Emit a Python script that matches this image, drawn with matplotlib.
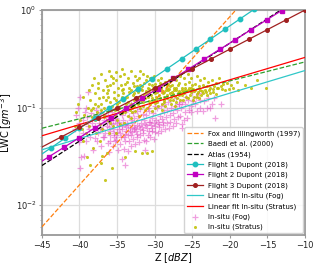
import matplotlib
matplotlib.use("Agg")
import matplotlib.pyplot as plt
from matplotlib.ticker import LogLocator, NullFormatter

# ---------------- data ----------------
# literature relations: endpoints of straight lines (log-LWC vs dBZ)
fox_z = [-45, -10]
fox_lwc = [0.006, 6.2]
baedi_z = [-45, -10]
baedi_lwc = [0.0615, 0.294]
atlas_z = [-45, -10]
atlas_lwc = [0.0255, 1.45]

# Dupont (2018) flights (marker positions)
f1_z = [-45.7, -43.8, -41.9, -40.0, -38.0, -36.1, -34.2, -32.2, -30.3, -28.4,
        -26.4, -24.5, -22.6, -20.6, -18.7, -16.8, -14.9]
f1_lwc = [0.0308, 0.0387, 0.0488, 0.0613, 0.0781, 0.0982, 0.1236, 0.157, 0.198,
          0.249, 0.317, 0.399, 0.502, 0.640, 0.805, 1.013, 1.27]
f2_z = [-46.2, -44.1, -42.0, -40.0, -37.9, -35.8, -33.8, -31.7, -29.6, -27.5,
        -25.5, -23.4, -21.3, -19.3, -17.2, -15.1, -13.1, -11.0]
f2_lwc = [0.0247, 0.0313, 0.0395, 0.0493, 0.0624, 0.0788, 0.0985, 0.1245, 0.157,
          0.199, 0.248, 0.314, 0.397, 0.495, 0.627, 0.792, 0.989, 1.25]
f3_z = [-47.5, -42.5, -40.0, -37.5, -35.0, -32.5, -30.0, -27.5, -25.0, -22.5,
        -20.0, -17.5, -15.0, -12.5, -10.0]
f3_lwc = [0.0313, 0.0498, 0.0626, 0.0789, 0.0994, 0.125, 0.158, 0.199, 0.250,
          0.315, 0.397, 0.500, 0.630, 0.794, 1.0]

# linear fits of in-situ data
fitfog_z = [-45, -10]
fitfog_lwc = [0.037, 0.24]
fitstr_z = [-45, -10]
fitstr_lwc = [0.0515, 0.327]

# in-situ stratus points (Z dBZ, LWC g m-3)
stratus = [
    (-40.6, 0.065), (-40.4, 0.09), (-40.1, 0.05), (-39.9, 0.075), (-40.2, 0.11),
    (-39.6, 0.045), (-39.4, 0.085), (-39.7, 0.06), (-39.5, 0.13), (-39.1, 0.07),
    (-38.9, 0.1), (-39.2, 0.055), (-38.8, 0.15), (-39.0, 0.031), (-38.6, 0.12),
    (-38.4, 0.08), (-38.7, 0.065), (-38.3, 0.17), (-38.6, 0.026), (-38.5, 0.095),
    (-38.1, 0.2), (-37.9, 0.14), (-38.2, 0.1), (-38.0, 0.075), (-37.8, 0.055),
    (-38.2, 0.039), (-37.9, 0.11), (-37.6, 0.18), (-37.4, 0.125), (-37.7, 0.09),
    (-37.3, 0.068), (-37.3, 0.046), (-37.5, 0.16), (-37.6, 0.105), (-37.1, 0.22),
    (-36.9, 0.15), (-37.2, 0.11), (-36.8, 0.08), (-37.0, 0.06), (-37.0, 0.032),
    (-37.1, 0.027), (-36.9, 0.13), (-37.2, 0.095), (-36.6, 0.19), (-36.4, 0.14),
    (-36.7, 0.1), (-36.3, 0.075), (-36.4, 0.034), (-36.6, 0.018), (-36.5, 0.12),
    (-36.7, 0.085), (-36.3, 0.165), (-36.1, 0.24), (-35.9, 0.17), (-36.2, 0.13),
    (-35.8, 0.095), (-36.0, 0.07), (-36.1, 0.055), (-35.9, 0.115), (-36.2, 0.15),
    (-35.8, 0.21), (-36.0, 0.08), (-35.6, 0.2), (-35.4, 0.145), (-35.7, 0.105),
    (-35.3, 0.085), (-35.6, 0.065), (-35.7, 0.024), (-35.4, 0.125), (-35.5, 0.18),
    (-35.3, 0.095), (-35.1, 0.23), (-34.9, 0.16), (-35.2, 0.12), (-34.8, 0.1),
    (-35.0, 0.075), (-35.1, 0.055), (-34.9, 0.135), (-35.2, 0.19), (-34.8, 0.09),
    (-35.0, 0.11), (-34.6, 0.21), (-34.4, 0.15), (-34.7, 0.115), (-34.3, 0.088),
    (-34.6, 0.068), (-34.4, 0.13), (-34.5, 0.17), (-34.7, 0.1), (-34.3, 0.25),
    (-34.1, 0.22), (-33.9, 0.175), (-34.2, 0.14), (-33.8, 0.11), (-34.0, 0.09),
    (-34.1, 0.07), (-34.0, 0.031), (-33.9, 0.125), (-34.2, 0.155), (-33.8, 0.1),
    (-33.6, 0.2), (-33.4, 0.16), (-33.7, 0.13), (-33.3, 0.105), (-33.6, 0.082),
    (-33.4, 0.145), (-33.5, 0.115), (-33.7, 0.185), (-33.3, 0.095), (-33.1, 0.24),
    (-32.9, 0.18), (-33.2, 0.15), (-32.8, 0.12), (-33.0, 0.1), (-33.1, 0.078),
    (-32.9, 0.135), (-33.2, 0.11), (-32.8, 0.165), (-33.0, 0.09), (-32.6, 0.21),
    (-32.4, 0.165), (-32.7, 0.14), (-32.3, 0.115), (-32.6, 0.093), (-32.6, 0.036),
    (-32.4, 0.125), (-32.5, 0.15), (-32.7, 0.105), (-32.3, 0.19), (-32.1, 0.2),
    (-31.9, 0.17), (-32.2, 0.145), (-31.8, 0.12), (-32.0, 0.1), (-32.1, 0.082),
    (-31.9, 0.13), (-32.2, 0.11), (-31.8, 0.155), (-32.0, 0.235), (-31.6, 0.22),
    (-31.4, 0.18), (-31.7, 0.15), (-31.3, 0.125), (-31.6, 0.105), (-31.7, 0.034),
    (-31.4, 0.135), (-31.5, 0.115), (-31.7, 0.165), (-31.3, 0.095), (-31.1, 0.19),
    (-30.9, 0.16), (-31.2, 0.14), (-30.8, 0.118), (-31.0, 0.1), (-31.0, 0.034),
    (-30.9, 0.128), (-31.2, 0.148), (-30.8, 0.175), (-31.0, 0.21), (-30.6, 0.2),
    (-30.4, 0.17), (-30.7, 0.145), (-30.3, 0.125), (-30.6, 0.108), (-30.4, 0.092),
    (-30.5, 0.135), (-30.7, 0.155), (-30.3, 0.115), (-30.1, 0.21), (-29.9, 0.175),
    (-30.2, 0.15), (-29.8, 0.13), (-30.0, 0.112), (-30.3, 0.036), (-29.9, 0.14),
    (-30.2, 0.16), (-29.8, 0.12), (-30.0, 0.098), (-29.6, 0.19), (-29.4, 0.165),
    (-29.7, 0.145), (-29.3, 0.125), (-29.6, 0.105), (-29.4, 0.135), (-29.5, 0.155),
    (-29.7, 0.115), (-29.3, 0.18), (-29.1, 0.2), (-28.9, 0.17), (-29.2, 0.15),
    (-28.8, 0.13), (-29.0, 0.11), (-28.9, 0.14), (-29.2, 0.16), (-28.8, 0.12),
    (-29.0, 0.095), (-28.6, 0.185), (-28.4, 0.16), (-28.7, 0.145), (-28.3, 0.125),
    (-28.4, 0.135), (-28.5, 0.15), (-28.7, 0.115), (-28.3, 0.17), (-28.6, 0.105),
    (-28.1, 0.19), (-27.9, 0.165), (-28.2, 0.15), (-27.8, 0.13), (-28.0, 0.14),
    (-28.1, 0.155), (-27.9, 0.12), (-28.2, 0.175), (-27.8, 0.11), (-27.6, 0.2),
    (-27.4, 0.16), (-27.7, 0.145), (-27.3, 0.132), (-27.6, 0.12), (-27.4, 0.15),
    (-27.5, 0.138), (-27.7, 0.17), (-27.3, 0.105), (-27.1, 0.19), (-26.9, 0.17),
    (-27.2, 0.15), (-26.8, 0.135), (-27.0, 0.125), (-27.1, 0.158), (-26.9, 0.142),
    (-27.2, 0.115), (-26.6, 0.21), (-26.4, 0.16), (-26.7, 0.148), (-26.3, 0.135),
    (-26.6, 0.12), (-26.4, 0.153), (-26.5, 0.14), (-26.7, 0.18), (-26.1, 0.2),
    (-25.9, 0.158), (-26.2, 0.145), (-25.8, 0.13), (-26.0, 0.15), (-26.1, 0.14),
    (-25.9, 0.175), (-26.2, 0.12), (-25.6, 0.22), (-25.4, 0.16), (-25.7, 0.148),
    (-25.3, 0.135), (-25.6, 0.153), (-25.4, 0.185), (-25.5, 0.125), (-25.1, 0.2),
    (-24.9, 0.155), (-25.2, 0.143), (-24.8, 0.13), (-25.0, 0.17), (-25.1, 0.16),
    (-24.9, 0.12), (-24.6, 0.175), (-24.4, 0.21), (-24.7, 0.148), (-24.3, 0.138),
    (-24.6, 0.152), (-24.4, 0.128), (-24.1, 0.165), (-23.9, 0.19), (-24.2, 0.145),
    (-23.8, 0.135), (-24.0, 0.15), (-24.1, 0.125), (-23.6, 0.17), (-23.4, 0.2),
    (-23.7, 0.147), (-23.3, 0.152), (-23.6, 0.14), (-23.1, 0.165), (-22.9, 0.185),
    (-23.2, 0.145), (-22.8, 0.15), (-23.0, 0.135), (-22.6, 0.16), (-22.4, 0.19),
    (-22.7, 0.142), (-22.3, 0.155), (-22.1, 0.165), (-21.9, 0.18), (-22.2, 0.145),
    (-21.8, 0.138), (-21.6, 0.158), (-21.4, 0.2), (-21.7, 0.16), (-21.1, 0.155),
    (-20.9, 0.175), (-21.2, 0.165), (-20.6, 0.15), (-20.4, 0.18), (-20.1, 0.155),
    (-19.9, 0.17), (-19.6, 0.16), (-19.1, 0.185), (-18.9, 0.15), (-18.0, 0.17),
    (-17.2, 0.16), (-16.4, 0.19), (-15.2, 0.16),
]

# in-situ fog points (Z dBZ, LWC g m-3)
fog = [
    (-40.6, 0.06), (-40.4, 0.085), (-39.9, 0.024), (-39.8, 0.031), (-40.1, 0.044),
    (-40.0, 0.07), (-39.9, 0.13), (-40.2, 0.1), (-39.4, 0.032), (-39.6, 0.055),
    (-39.5, 0.075), (-39.3, 0.09), (-39.1, 0.045), (-38.9, 0.065), (-39.0, 0.08),
    (-38.9, 0.146), (-39.2, 0.1), (-38.6, 0.05), (-38.4, 0.07), (-38.5, 0.088),
    (-38.7, 0.06), (-38.2, 0.037), (-38.0, 0.049), (-37.9, 0.065), (-38.1, 0.08),
    (-37.8, 0.095), (-37.6, 0.055), (-37.4, 0.07), (-37.5, 0.085), (-37.7, 0.045),
    (-37.3, 0.062), (-37.1, 0.04), (-36.9, 0.05), (-37.0, 0.06), (-36.8, 0.075),
    (-37.2, 0.09), (-36.9, 0.068), (-36.2, 0.043), (-36.6, 0.055), (-36.4, 0.065),
    (-36.5, 0.08), (-36.7, 0.05), (-36.3, 0.072), (-36.1, 0.035), (-35.9, 0.045),
    (-36.0, 0.058), (-35.8, 0.07), (-36.2, 0.085), (-35.9, 0.052), (-36.1, 0.063),
    (-35.6, 0.04), (-35.4, 0.05), (-35.5, 0.06), (-35.3, 0.075), (-35.7, 0.09),
    (-35.4, 0.055), (-35.6, 0.068), (-35.3, 0.045), (-34.9, 0.037), (-35.1, 0.047),
    (-35.0, 0.056), (-34.8, 0.066), (-35.2, 0.078), (-34.9, 0.1), (-35.1, 0.052),
    (-34.8, 0.061), (-35.0, 0.07), (-34.4, 0.03), (-34.6, 0.042), (-34.5, 0.05),
    (-34.3, 0.06), (-34.7, 0.072), (-34.4, 0.085), (-34.6, 0.055), (-34.3, 0.065),
    (-34.0, 0.026), (-34.1, 0.038), (-33.9, 0.046), (-34.0, 0.054), (-33.8, 0.063),
    (-34.2, 0.075), (-33.9, 0.09), (-34.1, 0.05), (-33.8, 0.058), (-34.0, 0.068),
    (-33.6, 0.036), (-33.4, 0.045), (-33.5, 0.053), (-33.3, 0.062), (-33.7, 0.07),
    (-33.4, 0.082), (-33.6, 0.1), (-33.3, 0.057), (-33.5, 0.066), (-33.1, 0.04),
    (-32.9, 0.048), (-33.0, 0.056), (-32.8, 0.064), (-33.2, 0.074), (-32.9, 0.088),
    (-33.1, 0.052), (-32.8, 0.06), (-33.0, 0.07), (-33.2, 0.11), (-32.6, 0.042),
    (-32.4, 0.05), (-32.5, 0.058), (-32.3, 0.067), (-32.7, 0.078), (-32.4, 0.092),
    (-32.6, 0.062), (-32.3, 0.054), (-32.1, 0.044), (-31.9, 0.052), (-32.0, 0.06),
    (-31.8, 0.07), (-32.2, 0.082), (-31.9, 0.097), (-32.1, 0.065), (-31.8, 0.12),
    (-31.3, 0.037), (-31.4, 0.047), (-31.5, 0.055), (-31.7, 0.063), (-31.4, 0.074),
    (-31.6, 0.087), (-31.3, 0.068), (-31.5, 0.059), (-31.1, 0.045), (-30.9, 0.053),
    (-31.0, 0.062), (-30.8, 0.072), (-31.2, 0.085), (-30.9, 0.1), (-31.1, 0.067),
    (-30.8, 0.058), (-30.6, 0.05), (-30.4, 0.058), (-30.5, 0.067), (-30.3, 0.078),
    (-30.7, 0.092), (-30.4, 0.062), (-30.6, 0.072), (-30.1, 0.048), (-29.9, 0.056),
    (-30.0, 0.065), (-29.8, 0.075), (-30.2, 0.088), (-29.9, 0.105), (-30.1, 0.07),
    (-29.6, 0.055), (-29.4, 0.063), (-29.5, 0.072), (-29.3, 0.083), (-29.7, 0.098),
    (-29.4, 0.068), (-29.1, 0.058), (-28.9, 0.067), (-29.0, 0.077), (-28.8, 0.09),
    (-29.2, 0.105), (-28.9, 0.072), (-28.6, 0.06), (-28.4, 0.07), (-28.5, 0.08),
    (-28.3, 0.094), (-28.7, 0.11), (-28.1, 0.062), (-27.9, 0.072), (-28.0, 0.085),
    (-27.8, 0.1), (-28.2, 0.115), (-27.6, 0.065), (-27.4, 0.076), (-27.5, 0.088),
    (-27.3, 0.105), (-27.1, 0.07), (-26.9, 0.08), (-27.0, 0.095), (-26.8, 0.11),
    (-27.2, 0.125), (-26.7, 0.11), (-26.3, 0.062), (-26.4, 0.068), (-26.6, 0.082),
    (-26.5, 0.1), (-26.4, 0.115), (-26.1, 0.075), (-25.9, 0.09), (-26.0, 0.11),
    (-25.8, 0.13), (-25.7, 0.079), (-25.4, 0.095), (-25.5, 0.12), (-25.1, 0.09),
    (-24.9, 0.118), (-25.0, 0.143), (-25.2, 0.105), (-24.4, 0.093), (-24.6, 0.11),
    (-24.5, 0.13), (-24.0, 0.1), (-24.1, 0.14), (-23.9, 0.12), (-23.6, 0.093),
    (-23.4, 0.118), (-23.1, 0.1), (-22.9, 0.125), (-22.7, 0.1), (-22.4, 0.11),
    (-22.0, 0.079), (-22.1, 0.127), (-21.2, 0.11),
]

xticks = [-45, -40, -35, -30, -25, -20, -15, -10]

# ---------------- figure ----------------
plt.rcParams['font.family'] = ['DejaVu Sans']
fig = plt.figure(figsize=(3.2, 2.64), dpi=100)
ax = fig.add_axes([0.131, 0.108, 0.822, 0.854])

grey = '#999999'
ax.plot(fox_z, fox_lwc, ls='--', color='tab:orange', lw=0.9, label='Fox and Illingworth (1997)', zorder=3)
ax.plot(baedi_z, baedi_lwc, ls='--', color='#2ca02c', lw=0.9, label='Baedi et al. (2000)', zorder=3)
ax.plot(atlas_z, atlas_lwc, ls='--', color='black', lw=0.9, label='Atlas (1954)', zorder=3)
ax.plot(f1_z, f1_lwc, '-o', color='#1fbfbf', lw=0.9, ms=3.2, label='Flight 1 Dupont (2018)', zorder=4)
ax.plot(f2_z, f2_lwc, '-s', color='#c000c0', lw=0.9, ms=3.2, label='Flight 2 Dupont (2018)', zorder=4)
ax.plot(f3_z, f3_lwc, '-o', color='#a02020', lw=0.9, ms=2.6, label='Flight 3 Dupont (2018)', zorder=4)
ax.plot(fitfog_z, fitfog_lwc, '-', color='#30c8c8', lw=0.9, label='Linear fit In-situ (Fog)', zorder=3)
ax.plot(fitstr_z, fitstr_lwc, '-', color='red', lw=0.9, label='Linear fit In-situ (Stratus)', zorder=3)

ax.scatter([p[0] for p in fog], [p[1] for p in fog], marker='+', s=14, lw=0.9,
           color='#e040c0', alpha=0.5, label='In-situ (Fog)', zorder=1)
ax.scatter([p[0] for p in stratus], [p[1] for p in stratus], marker='o', s=5, lw=0,
           color='#bfbf00', alpha=0.85, label='In-situ (Stratus)', zorder=1)

ax.set_yscale('log')
ax.set_xlim(-45, -10)
ax.set_ylim(0.0049, 1.0)
ax.set_xticks(xticks)
ax.set_xticklabels([f'\u2212{abs(t)}' for t in xticks])
ax.yaxis.set_minor_locator(LogLocator(base=10, subs=range(2, 10)))
ax.yaxis.set_minor_formatter(NullFormatter())
ax.grid(True, which='major', color='#dddddd', lw=0.9, zorder=0)
ax.set_axisbelow(True)
for s in ax.spines.values():
    s.set_color(grey)
    s.set_linewidth(1.3)
ax.tick_params(axis='both', which='major', labelsize=6, length=2.5, width=0.8,
               color=grey, pad=1.5, labelcolor='#222222')
ax.tick_params(axis='y', which='minor', length=1.3, width=0.5, color=grey)

ax.set_xlabel('Z [$dBZ$]', fontsize=7, labelpad=0.5)
ax.set_ylabel('LWC [$gm^{-3}$]', fontsize=7)
ax.yaxis.set_label_coords(-0.105, 0.5)

leg = ax.legend(loc='lower right', fontsize=5, labelspacing=0.56, handlelength=2.3,
                handletextpad=0.6, borderpad=0.45, borderaxespad=0.3, framealpha=0.85,
                edgecolor='#cccccc', fancybox=True)

fig.savefig('out.png', dpi=100)
